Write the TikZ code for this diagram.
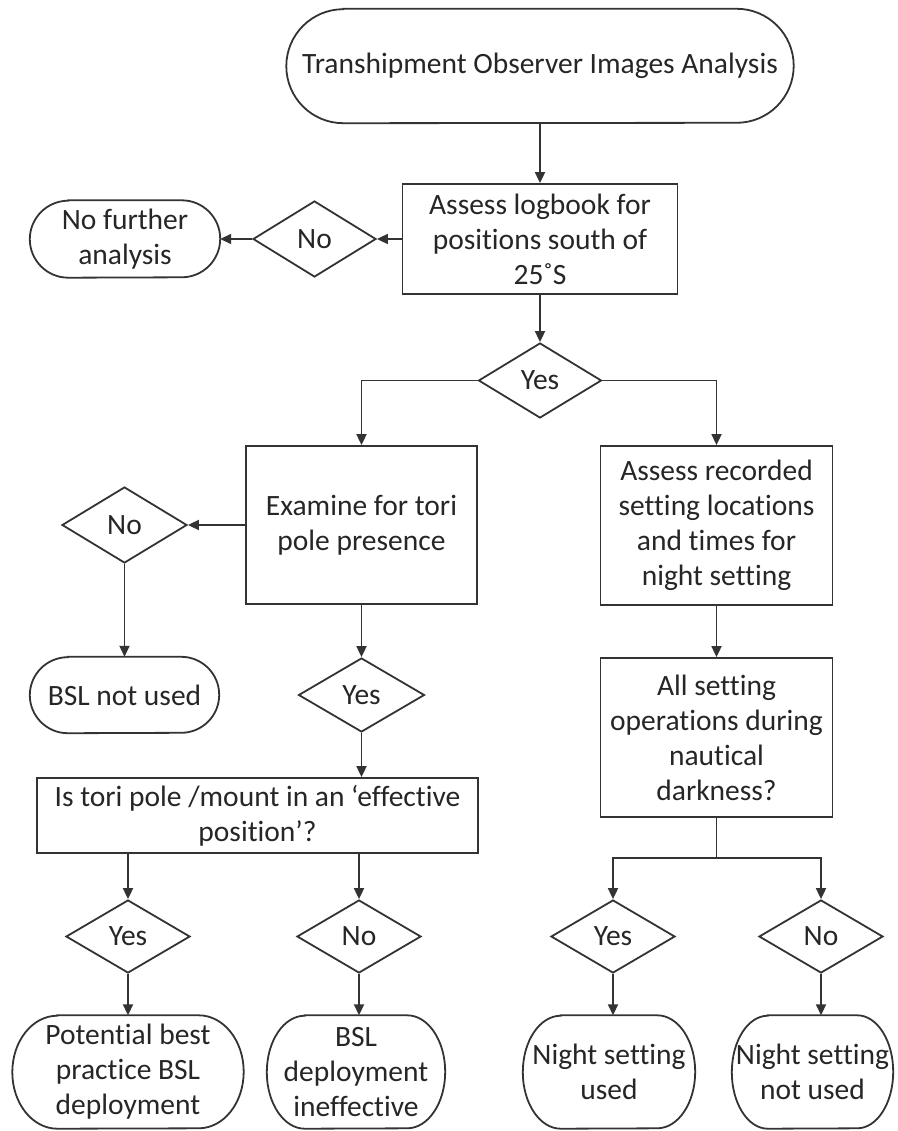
\documentclass[tikz,border=0pt]{standalone}
\usepackage{fontspec}
\setmainfont[Ligatures={NoCommon}]{Carlito}
\usetikzlibrary{shapes.geometric,arrows.meta}
\definecolor{ink}{HTML}{333333}
\definecolor{txt}{HTML}{262626}
\newcommand{\termoutline}[3]{%
  \draw[ln] ([xshift=#2]#1.north west) -- ([xshift=-#2]#1.north east)
    arc[start angle=90,end angle=-90,x radius=#2,y radius=#3]
    -- ([xshift=#2]#1.south west)
    arc[start angle=270,end angle=90,x radius=#2,y radius=#3] -- cycle;}
\begin{document}
\begin{tikzpicture}[x=1pt,y=-1pt,
  ln/.style={draw=ink,line width=1.8pt},
  base/.style={font=\fontsize{29.5}{35}\selectfont, text=txt, align=center, inner sep=0pt},
  box/.style={base, ln, rectangle},
  term/.style={base, rectangle},
  dec/.style={base, ln, diamond},
  arr/.style={ln, -{Triangle[length=11pt,width=10pt]}}]
\useasboundingbox (0,0) rectangle (897,1131);

% nodes
\node[term, minimum width=507pt, minimum height=114pt] (start) at (540,66) {Transhipment Observer Images Analysis};
\termoutline{start}{57pt}{57pt}
\node[box, minimum width=275pt, minimum height=110pt] (logbook) at (540,239) {Assess logbook for\\positions south of\\25˚S};
\node[dec, minimum width=123pt, minimum height=76pt] (no1) at (314.5,239) {No};
\node[term, minimum width=190pt, minimum height=77pt] (nofurther) at (125,239) {No further\\analysis};
\termoutline{nofurther}{38.5pt}{38.5pt}
\node[dec, minimum width=123pt, minimum height=75pt] (yes1) at (540,380.5) {Yes};

\node[box, minimum width=231pt, minimum height=158pt] (examine) at (361.5,525) {Examine for tori\\pole presence};
\node[box, minimum width=232pt, minimum height=159pt] (assessrec) at (716.5,525.5) {Assess recorded\\setting locations\\and times for\\night setting};
\node[dec, minimum width=125pt, minimum height=76pt] (no2) at (124.5,525) {No};
\node[term, minimum width=189pt, minimum height=76pt] (bslnot) at (124.5,695) {BSL not used};
\termoutline{bslnot}{38pt}{38pt}
\node[dec, minimum width=126pt, minimum height=74pt] (yes2) at (361.5,695) {Yes};
\node[box, minimum width=232pt, minimum height=159pt] (allset) at (716.5,737.5) {All setting\\operations during\\nautical\\darkness?};

\node[box, minimum width=441pt, minimum height=75pt] (istori) at (257.5,815.5) {Is tori pole /mount in an ‘effective\\position’?};
\node[dec, minimum width=124pt, minimum height=73pt] (yes3) at (128,936.5) {Yes};
\node[dec, minimum width=124pt, minimum height=73pt] (no3) at (359,936.5) {No};
\node[dec, minimum width=124pt, minimum height=73pt] (yes4) at (613,936.5) {Yes};
\node[dec, minimum width=124pt, minimum height=73pt] (no4) at (821,936.5) {No};

\node[term, minimum width=231pt, minimum height=113pt] (potential) at (128,1072) {Potential best\\practice BSL\\deployment};
\termoutline{potential}{45pt}{56.5pt}
\node[term, minimum width=178pt, minimum height=113pt] (bsldep) at (356,1072) {BSL\\deployment\\ineffective};
\termoutline{bsldep}{38pt}{56.5pt}
\node[term, minimum width=172pt, minimum height=113pt] (nightused) at (609,1072) {Night setting\\used};
\termoutline{nightused}{38pt}{56.5pt}
\node[term, minimum width=161pt, minimum height=113pt] (nightnot) at (812.5,1072) {Night setting\\not used};
\termoutline{nightnot}{36pt}{56.5pt}

% connectors
\draw[arr] (start) -- (logbook);
\draw[arr] (logbook) -- (no1);
\draw[arr] (no1) -- (nofurther);
\draw[arr] (logbook) -- (yes1);
\draw[arr] (yes1.west) -| (examine.north);
\draw[arr] (yes1.east) -| (assessrec.north);
\draw[arr] (examine) -- (no2);
\draw[arr] (no2) -- (bslnot);
\draw[arr] (examine) -- (yes2);
\draw[arr] (yes2.south) -- (yes2.south |- istori.north);
\draw[arr] (yes3.north |- istori.south) -- (yes3.north);
\draw[arr] (no3.north |- istori.south) -- (no3.north);
\draw[arr] (yes3) -- (potential);
\draw[arr] (no3.south) -- (no3.south |- bsldep.north);
\draw[arr] (assessrec) -- (allset);
\coordinate (br) at (716.5,858);
\draw[ln] (allset.south) -- (br);
\draw[arr] (br) -| (yes4.north);
\draw[arr] (br) -| (no4.north);
\draw[arr] (yes4.south) -- (yes4.south |- nightused.north);
\draw[arr] (no4.south) -- (no4.south |- nightnot.north);
\end{tikzpicture}
\end{document}
